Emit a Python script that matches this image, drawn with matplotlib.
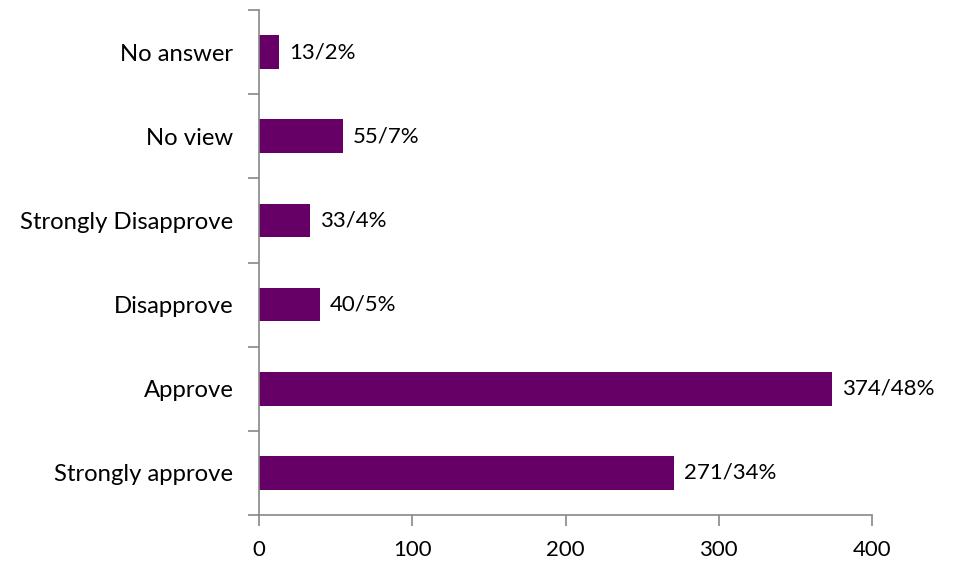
import matplotlib
matplotlib.use("Agg")
import matplotlib.pyplot as plt
import numpy as np

categories = ["Strongly approve", "Approve", "Disapprove", "Strongly Disapprove", "No view", "No answer"]
values = [271, 374, 40, 33, 55, 13]
labels = ["271/34%", "374/48%", "40/5%", "33/4%", "55/7%", "13/2%"]
xticks = [0, 100, 200, 300, 400]

plt.rcParams['font.family'] = ['Lato', 'DejaVu Sans']

fig = plt.figure(figsize=(9.56, 5.61), dpi=100)
ax = fig.add_axes([259/956, 1-515/561, (872-259)/956, (515-10)/561])

y = np.arange(len(categories))
ax.barh(y, values, height=0.4, color="#660066")
for yi, v, lab in zip(y, values, labels):
    ax.text(v + 6.5, yi, lab, va="center", ha="left", fontsize=16, color="black")

ax.set_xlim(0, 400)
ax.set_ylim(-0.5, len(categories) - 0.5)
ax.set_xticks(xticks)
ax.set_xticklabels([str(t) for t in xticks], fontsize=16)
ax.set_yticks(y)
ax.set_yticklabels(categories, fontsize=17.2)
ax.set_yticks(np.arange(-0.5, len(categories)), minor=True)
ax.tick_params(axis="y", which="major", length=0, pad=18.5)
ax.tick_params(axis="y", which="minor", length=8, color="#888888", width=1.2, direction="out")
ax.tick_params(axis="x", length=8, color="#888888", width=1.2, direction="out", pad=10)

for s in ["top", "right"]:
    ax.spines[s].set_visible(False)
for s in ["left", "bottom"]:
    ax.spines[s].set_color("#888888")
    ax.spines[s].set_linewidth(1.2)

fig.savefig("out.png", dpi=100)
